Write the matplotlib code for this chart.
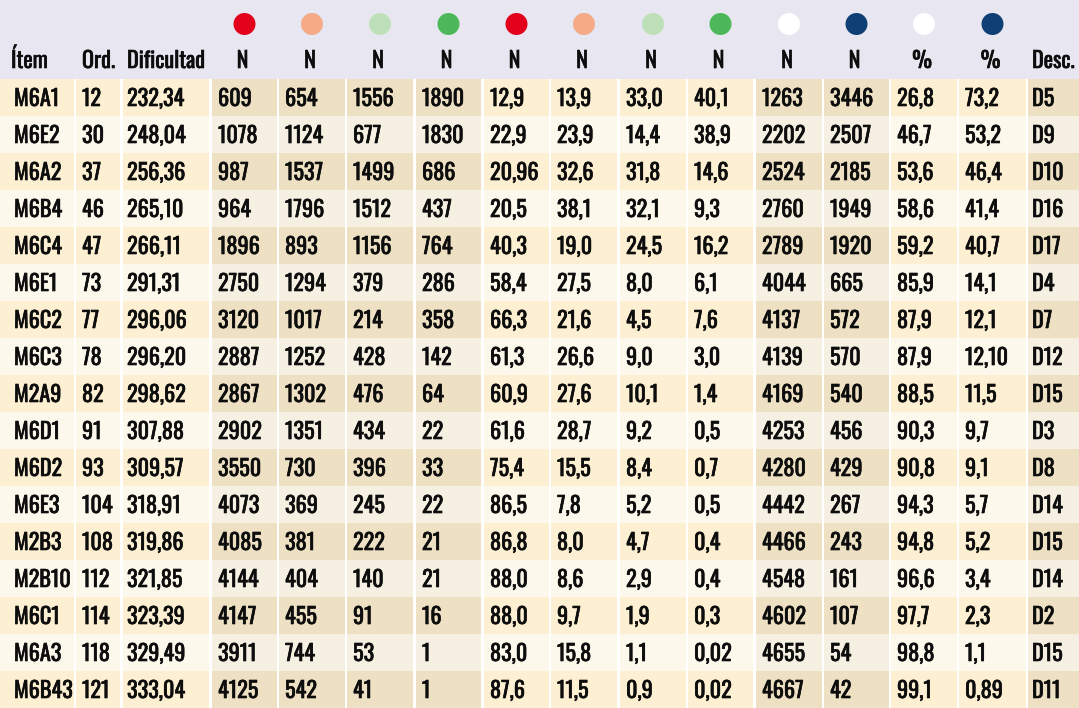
import matplotlib.pyplot as plt
import matplotlib.patheffects as pe
from matplotlib.patches import Rectangle, Circle

# Table data (kept as strings to keep the original number formats)
items = ['M6A1', 'M6E2', 'M6A2', 'M6B4', 'M6C4', 'M6E1', 'M6C2', 'M6C3', 'M2A9',
         'M6D1', 'M6D2', 'M6E3', 'M2B3', 'M2B10', 'M6C1', 'M6A3', 'M6B43']
orden = ['12', '30', '37', '46', '47', '73', '77', '78', '82', '91', '93', '104',
         '108', '112', '114', '118', '121']
dificultad = ['232,34', '248,04', '256,36', '265,10', '266,11', '291,31', '296,06',
              '296,20', '298,62', '307,88', '309,57', '318,91', '319,86', '321,85',
              '323,39', '329,49', '333,04']
n_red = ['609', '1078', '987', '964', '1896', '2750', '3120', '2887', '2867', '2902',
         '3550', '4073', '4085', '4144', '4147', '3911', '4125']
n_salmon = ['654', '1124', '1537', '1796', '893', '1294', '1017', '1252', '1302',
            '1351', '730', '369', '381', '404', '455', '744', '542']
n_lgreen = ['1556', '677', '1499', '1512', '1156', '379', '214', '428', '476', '434',
            '396', '245', '222', '140', '91', '53', '41']
n_green = ['1890', '1830', '686', '437', '764', '286', '358', '142', '64', '22', '33',
           '22', '21', '21', '16', '1', '1']
p_red = ['12,9', '22,9', '20,96', '20,5', '40,3', '58,4', '66,3', '61,3', '60,9',
         '61,6', '75,4', '86,5', '86,8', '88,0', '88,0', '83,0', '87,6']
p_salmon = ['13,9', '23,9', '32,6', '38,1', '19,0', '27,5', '21,6', '26,6', '27,6',
            '28,7', '15,5', '7,8', '8,0', '8,6', '9,7', '15,8', '11,5']
p_lgreen = ['33,0', '14,4', '31,8', '32,1', '24,5', '8,0', '4,5', '9,0', '10,1', '9,2',
            '8,4', '5,2', '4,7', '2,9', '1,9', '1,1', '0,9']
p_green = ['40,1', '38,9', '14,6', '9,3', '16,2', '6,1', '7,6', '3,0', '1,4', '0,5',
           '0,7', '0,5', '0,4', '0,4', '0,3', '0,02', '0,02']
n_white = ['1263', '2202', '2524', '2760', '2789', '4044', '4137', '4139', '4169',
           '4253', '4280', '4442', '4466', '4548', '4602', '4655', '4667']
n_navy = ['3446', '2507', '2185', '1949', '1920', '665', '572', '570', '540', '456',
          '429', '267', '243', '161', '107', '54', '42']
pc_white = ['26,8', '46,7', '53,6', '58,6', '59,2', '85,9', '87,9', '87,9', '88,5',
            '90,3', '90,8', '94,3', '94,8', '96,6', '97,7', '98,8', '99,1']
pc_navy = ['73,2', '53,2', '46,4', '41,4', '40,7', '14,1', '12,1', '12,10', '11,5',
           '9,7', '9,1', '5,7', '5,2', '3,4', '2,3', '1,1', '0,89']
desc = ['D5', 'D9', 'D10', 'D16', 'D17', 'D4', 'D7', 'D12', 'D15', 'D3', 'D8', 'D14',
        'D15', 'D14', 'D2', 'D15', 'D11']

columns = [items, orden, dificultad, n_red, n_salmon, n_lgreen, n_green,
           p_red, p_salmon, p_lgreen, p_green, n_white, n_navy, pc_white, pc_navy, desc]
headers = ['Ítem', 'Ord.', 'Dificultad', 'N', 'N', 'N', 'N', 'N', 'N', 'N', 'N',
           'N', 'N', '%', '%', 'Desc.']
dot_colors = [None, None, None, '#e2001a', '#f4ab86', '#bde0b8', '#4cb85a',
              '#e2001a', '#f4ab86', '#bde0b8', '#4cb85a', '#ffffff', '#0f3f73',
              '#ffffff', '#0f3f73', None]

# layout (pixel units)
col_edges = [(0, 74), (76, 120), (123, 209), (212, 277), (279, 345), (347, 413),
             (416, 481), (484, 549), (551, 617), (620, 686), (688, 753), (756, 822),
             (824, 889), (891, 957), (959, 1026), (1028, 1079)]
dark_cols = {3, 4, 5, 6, 11, 12, 15}
W, H = 1079, 708
header_h = 79
row_h = (H - header_h) / len(items)

plt.rcParams['font.family'] = ['Oswald', 'Roboto Condensed', 'DejaVu Sans']
fs = 16
tc = '#0d0d0d'
# slight stroke to thicken the glyphs a bit (reference font is a bold condensed)
bold = [pe.withStroke(linewidth=0.45, foreground=tc)]

fig = plt.figure(figsize=(W / 100, H / 100), dpi=100)
ax = fig.add_axes([0, 0, 1, 1])
ax.set_xlim(0, W)
ax.set_ylim(H, 0)
ax.axis('off')

ax.add_patch(Rectangle((0, 0), W, header_h, color='#e8e7f1', lw=0))

for j, (x0, x1) in enumerate(col_edges):
    pad = 14 if j == 0 else 6
    if j in (2, 15):
        pad = 4
    # header
    if dot_colors[j] is None:
        ax.text(x0 + pad - (3 if j == 0 else 0), 68, headers[j], fontsize=fs,
                color=tc, ha='left', va='baseline', path_effects=bold)
    else:
        xc = (x0 + x1) / 2
        ax.add_patch(Circle((xc, 24), 11, color=dot_colors[j], lw=0))
        ax.text(xc - 2, 68, headers[j], fontsize=fs, color=tc,
                ha='center', va='baseline', path_effects=bold)
    # body cells
    for i, val in enumerate(columns[j]):
        y0 = header_h + i * row_h
        if i % 2 == 0:
            fc = '#ede0c3' if j in dark_cols else '#fdefd2'
        else:
            fc = '#f6f0e3' if j in dark_cols else '#fdf8ec'
        ax.add_patch(Rectangle((x0, y0), x1 - x0, row_h, color=fc, lw=0))
        ax.text(x0 + pad, y0 + 27, val, fontsize=fs, color=tc,
                ha='left', va='baseline', path_effects=bold)

fig.savefig('out.png', dpi=100)
